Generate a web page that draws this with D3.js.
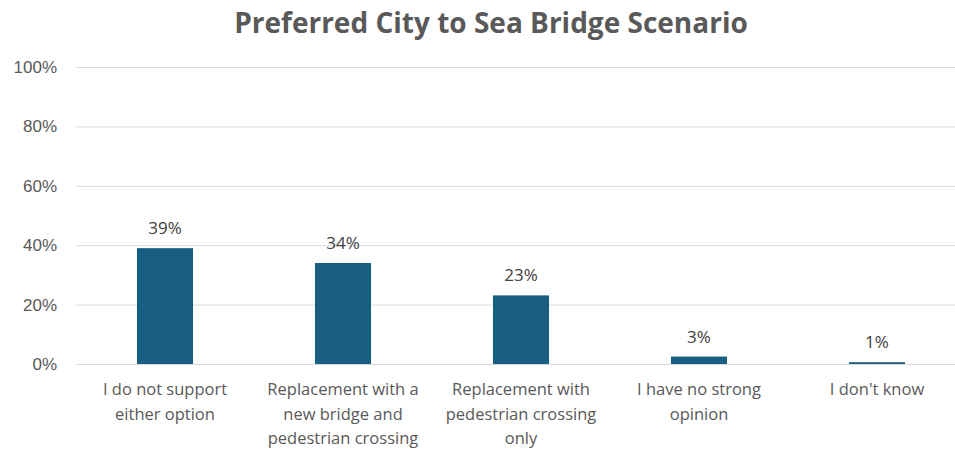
<!DOCTYPE html>
<html>
<head>
<meta charset="utf-8">
<script src="https://cdn.jsdelivr.net/npm/d3@7"></script>
<style>
  body { margin: 0; background: #fff; }
  svg { display: block; font-family: "Open Sans", "Liberation Sans", sans-serif; }
</style>
</head>
<body>
<svg class="chart"></svg>
<script>
// data
var categories = ["I do not support either option",
                  "Replacement with a new bridge and pedestrian crossing",
                  "Replacement with pedestrian crossing only",
                  "I have no strong opinion",
                  "I don't know"];
var labelLines = [["I do not support", "either option"],
                  ["Replacement with a", "new bridge and", "pedestrian crossing"],
                  ["Replacement with", "pedestrian crossing", "only"],
                  ["I have no strong", "opinion"],
                  ["I don't know"]];
var values = [39.0, 34.0, 23.1, 2.5, 0.6];
var yTicks = [0, 20, 40, 60, 80, 100];

var gwidth = 955, gheight = 450;
var margin = {top: 67, right: -11, bottom: 86, left: 76},
    width = gwidth - margin.left - margin.right,
    height = gheight - margin.top - margin.bottom;

var svg = d3.select(".chart")
  .attr("width", gwidth)
  .attr("height", gheight);

svg.append("text")
  .attr("x", 491)
  .attr("y", 33)
  .attr("text-anchor", "middle")
  .style("font-size", "28px")
  .style("font-weight", "bold")
  .style("fill", "#595959")
  .text("Preferred City to Sea Bridge Scenario");

var chart = svg.append("g")
  .attr("transform", "translate(" + margin.left + "," + margin.top + ")");

var x = d3.scaleBand()
  .domain(categories)
  .range([0, width])
  .paddingInner(0.685)
  .paddingOuter(0.3425);
var y = d3.scaleLinear()
  .domain([0, 100])
  .range([height, 0]);

// gridlines + tick labels
var yAxis = d3.axisLeft(y)
  .tickValues(yTicks)
  .tickSize(-width)
  .tickPadding(19)
  .tickFormat(function(d) { return d + "%"; });
var yaxis = chart.append("g").attr("class", "y axis").call(yAxis);
yaxis.select(".domain").remove();
yaxis.selectAll("line").attr("stroke", "#d9d9d9").attr("stroke-width", 1);
yaxis.selectAll("text")
  .style("font-size", "17px")
  .style("fill", "#595959");

// bars
chart.selectAll(".bar")
  .data(values)
  .enter()
  .append("rect")
  .attr("class", "bar")
  .attr("x", function(d, i) { return x(categories[i]); })
  .attr("y", function(d) { return y(d); })
  .attr("width", x.bandwidth())
  .attr("height", function(d) { return height - y(d); })
  .attr("fill", "#175e81");

// value labels
chart.selectAll(".vlabel")
  .data(values)
  .enter()
  .append("text")
  .attr("class", "vlabel")
  .attr("x", function(d, i) { return x(categories[i]) + x.bandwidth() / 2; })
  .attr("y", function(d) { return y(d) - 14; })
  .attr("text-anchor", "middle")
  .style("font-size", "17px")
  .style("fill", "#404040")
  .text(function(d) { return Math.round(d) + "%"; });

// category labels
var cat = chart.selectAll(".clabel")
  .data(labelLines)
  .enter()
  .append("text")
  .attr("class", "clabel")
  .attr("text-anchor", "middle")
  .attr("transform", function(d, i) {
    return "translate(" + (x(categories[i]) + x.bandwidth() / 2) + "," + (height + 31) + ")";
  })
  .style("font-size", "16.5px")
  .style("fill", "#595959");
cat.selectAll("tspan")
  .data(function(d) { return d; })
  .enter()
  .append("tspan")
  .attr("x", 0)
  .attr("y", function(d, j) { return j * 24.5; })
  .text(function(d) { return d; });
</script>
</body>
</html>
